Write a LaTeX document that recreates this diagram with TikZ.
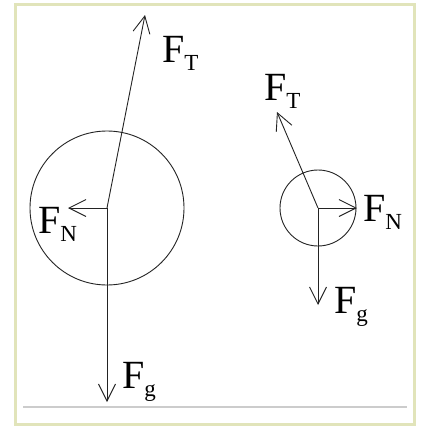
\documentclass[tikz,border=0pt]{standalone}
\usepackage{fontspec}
\setmainfont{Liberation Serif}
\usepackage{tikz}
\usetikzlibrary{arrows.meta}
\definecolor{FrameColor}{RGB}{225,228,186}
\definecolor{FloorColor}{RGB}{204,204,204}
\definecolor{VecColor}{RGB}{35,35,35}
\newcommand{\forcename}[1]{F\raisebox{-8pt}{\fontsize{23}{23}\selectfont #1}}
\tikzset{
    ball/.style={
        shape=circle,
        draw=VecColor,
        line width=0.9pt,
        inner sep=0pt,
        minimum size=#1
    },
    vec/.style={
        draw=VecColor,
        line width=0.9pt,
        -{Straight Barb[length=17pt, width=17pt, line width=0.9pt]}
    },
    flabel/.style={
        font=\fontsize{40}{40}\selectfont,
        inner sep=0pt,
        anchor=base west
    }
}

\begin{document}
\begin{tikzpicture}[x=1pt, y=-1pt]

% Frame
\useasboundingbox (0,0) rectangle (422,426);
\draw[FrameColor, line width=3pt] (15.5,4.5) rectangle (414.5,424.5);
\draw[FloorColor, line width=2pt] (23,407) -- (407,407);

% Large ball
\node[ball=154pt] (big) at (107,208) {};
\coordinate (big_t) at (145,15);
\coordinate (big_n) at (68,208);
\coordinate (big_g) at (107,402);
\draw[vec] (big.center) -- (big_t);
\draw[vec] (big.center) -- (big_n);
\draw[vec] (big.center) -- (big_g);
\node[flabel] (big_tl) at (162,62) {\forcename{T}};
\node[flabel] (big_nl) at (38,233) {\forcename{N}};
\node[flabel] (big_gl) at (122,388) {\forcename{g}};

% Small ball
\node[ball=76pt] (small) at (318,208) {};
\coordinate (small_t) at (277,112);
\coordinate (small_n) at (357,208);
\coordinate (small_g) at (318,305);
\draw[vec] (small.center) -- (small_t);
\draw[vec] (small.center) -- (small_n);
\draw[vec] (small.center) -- (small_g);
\node[flabel] (small_tl) at (264,100) {\forcename{T}};
\node[flabel] (small_nl) at (363,221) {\forcename{N}};
\node[flabel] (small_gl) at (334,313) {\forcename{g}};

\end{tikzpicture}
\end{document}
